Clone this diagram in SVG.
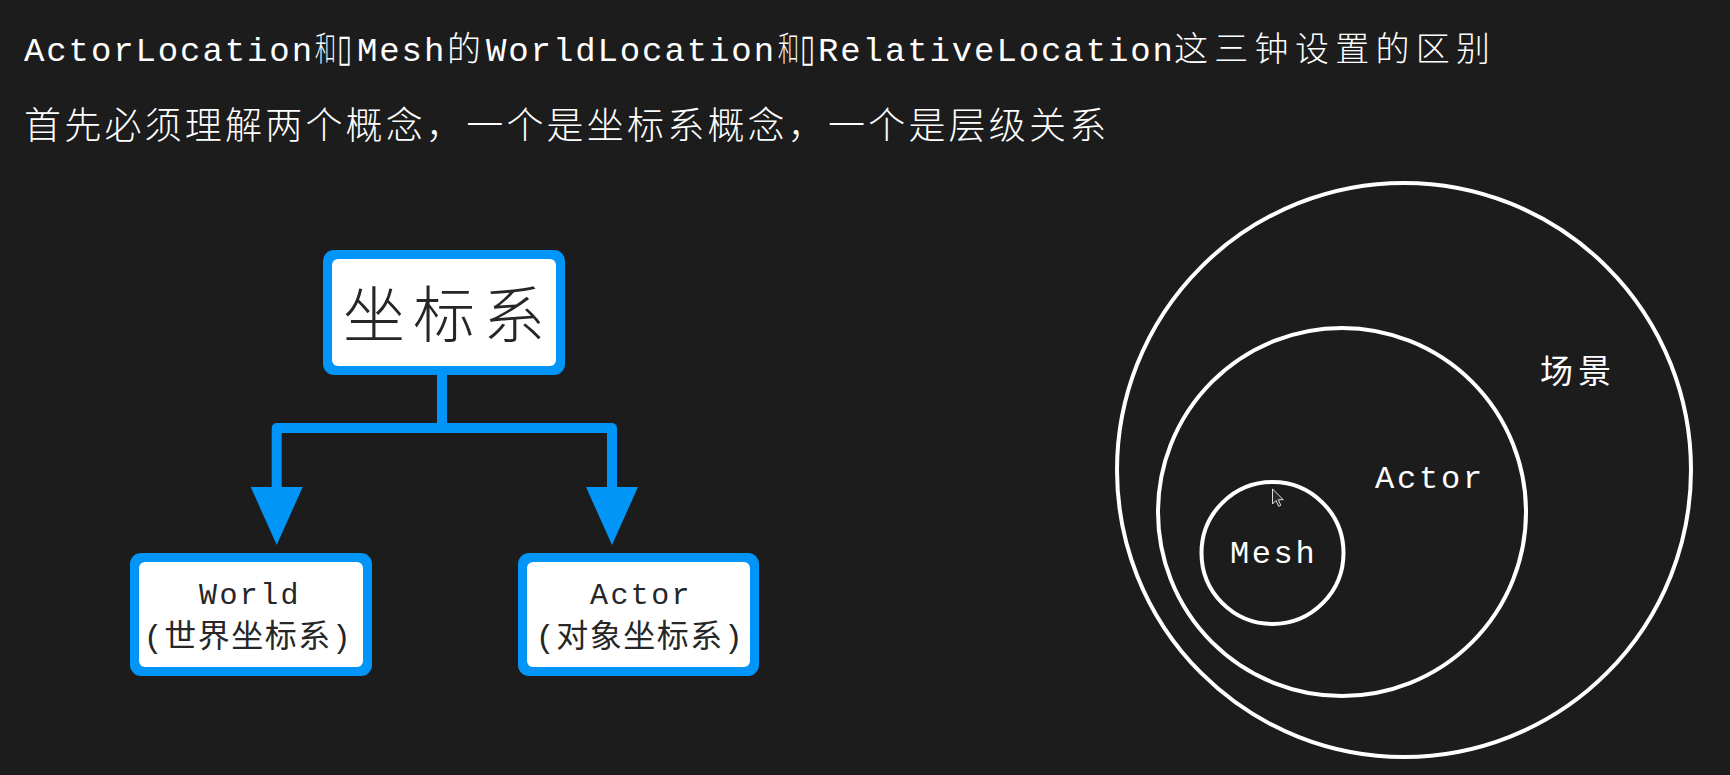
<svg xmlns="http://www.w3.org/2000/svg" width="1730" height="775" viewBox="0 0 1730 775">
  <style>
    .lat { font-family: "Liberation Mono", "DejaVu Sans Mono", monospace; }
    .cjk { font-family: "Noto Sans CJK SC", "Noto Sans", sans-serif; }
    .mix { font-family: "Liberation Mono", "Noto Sans CJK SC", monospace; }
    .title1 { fill: #ffffff; font-size: 34px; }
    .tofu { fill: #ffffff; font-family: "DejaVu Sans", sans-serif; font-size: 38px; }
    .boxout { fill: #0095f6; }
    .boxin { fill: #ffffff; }
    .ring { fill: none; stroke: #ffffff; stroke-width: 4; }
    .conn { fill: none; stroke: #0095f6; stroke-width: 10; stroke-linejoin: round; }
    .head { fill: #0095f6; }
    .dark { fill: #262626; }
    .white { fill: #ffffff; }
  </style>
  <rect x="0" y="0" width="1730" height="775" fill="#1c1c1c"/>

  <g id="title">
    <text class="title1" y="61">
      <tspan class="lat" x="24" letter-spacing="1.9">ActorLocation</tspan>
      <tspan class="lat" x="357" letter-spacing="1.9">Mesh</tspan>
      <tspan class="cjk" x="447" font-weight="300">的</tspan>
      <tspan class="lat" x="486" letter-spacing="1.9">WorldLocation</tspan>
      <tspan class="lat" x="818" letter-spacing="1.9">RelativeLocation</tspan>
      <tspan class="cjk" x="1174" font-weight="300" letter-spacing="6.3">这三钟设置的区别</tspan>
    </text>
    <text class="title1 cjk" font-weight="300" transform="translate(315,61) scale(0.62,1)">和</text>
    <text class="tofu" transform="translate(337,61) scale(0.7,1)">▯</text>
    <text class="title1 cjk" font-weight="300" transform="translate(778,61) scale(0.62,1)">和</text>
    <text class="tofu" transform="translate(800,61) scale(0.7,1)">▯</text>
    <text class="cjk" x="24" y="139" fill="#ffffff" font-size="37" font-weight="300" letter-spacing="3.2">首先必须理解两个概念，一个是坐标系概念，一个是层级关系</text>
  </g>

  <g id="connectors">
    <path class="conn" d="M442,372 V428"/>
    <path class="conn" d="M276.7,492 V428 H612 V492"/>
    <polygon class="head" points="250.7,487 302.7,487 276.7,545"/>
    <polygon class="head" points="586,487 638,487 612,545"/>
  </g>

  <g id="node-coord">
    <rect class="boxout" x="323" y="250" width="242" height="125" rx="11"/>
    <rect class="boxin" x="332" y="259" width="224" height="107" rx="6"/>
    <text class="cjk dark" x="448" y="338" font-size="62" font-weight="300" letter-spacing="8" text-anchor="middle">坐标系</text>
  </g>

  <g id="node-world">
    <rect class="boxout" x="130" y="553" width="242" height="123" rx="11"/>
    <rect class="boxin" x="139" y="562" width="224" height="105" rx="6"/>
    <text class="lat dark" x="250" y="604" font-size="30" letter-spacing="2.4" text-anchor="middle">World</text>
    <text class="mix dark" x="248" y="647" font-size="32" letter-spacing="1.5" text-anchor="middle">(世界坐标系)</text>
  </g>

  <g id="node-actor">
    <rect class="boxout" x="518" y="553" width="241" height="123" rx="11"/>
    <rect class="boxin" x="527" y="562" width="223" height="105" rx="6"/>
    <text class="lat dark" x="641" y="604" font-size="30" letter-spacing="2.4" text-anchor="middle">Actor</text>
    <text class="mix dark" x="640" y="647" font-size="32" letter-spacing="1.5" text-anchor="middle">(对象坐标系)</text>
  </g>

  <g id="node-scene">
    <circle class="ring" cx="1404" cy="470" r="287"/>
    <text class="cjk white" x="1540" y="383" font-size="33" letter-spacing="5">场景</text>
  </g>

  <g id="node-actor-circle">
    <circle class="ring" cx="1342" cy="512" r="184"/>
    <text class="lat white" x="1375" y="488" font-size="32" letter-spacing="2.8">Actor</text>
  </g>

  <g id="node-mesh">
    <circle class="ring" cx="1272.5" cy="553" r="71"/>
    <text class="lat white" x="1230" y="563" font-size="32" letter-spacing="2.6">Mesh</text>
  </g>

  <path d="M1272.5,489 v15 l3.5,-3.5 l2.6,5.8 l2.2,-1 l-2.5,-5.6 h5 z" fill="#2a2a2a" stroke="#dddddd" stroke-width="1"/>
</svg>
